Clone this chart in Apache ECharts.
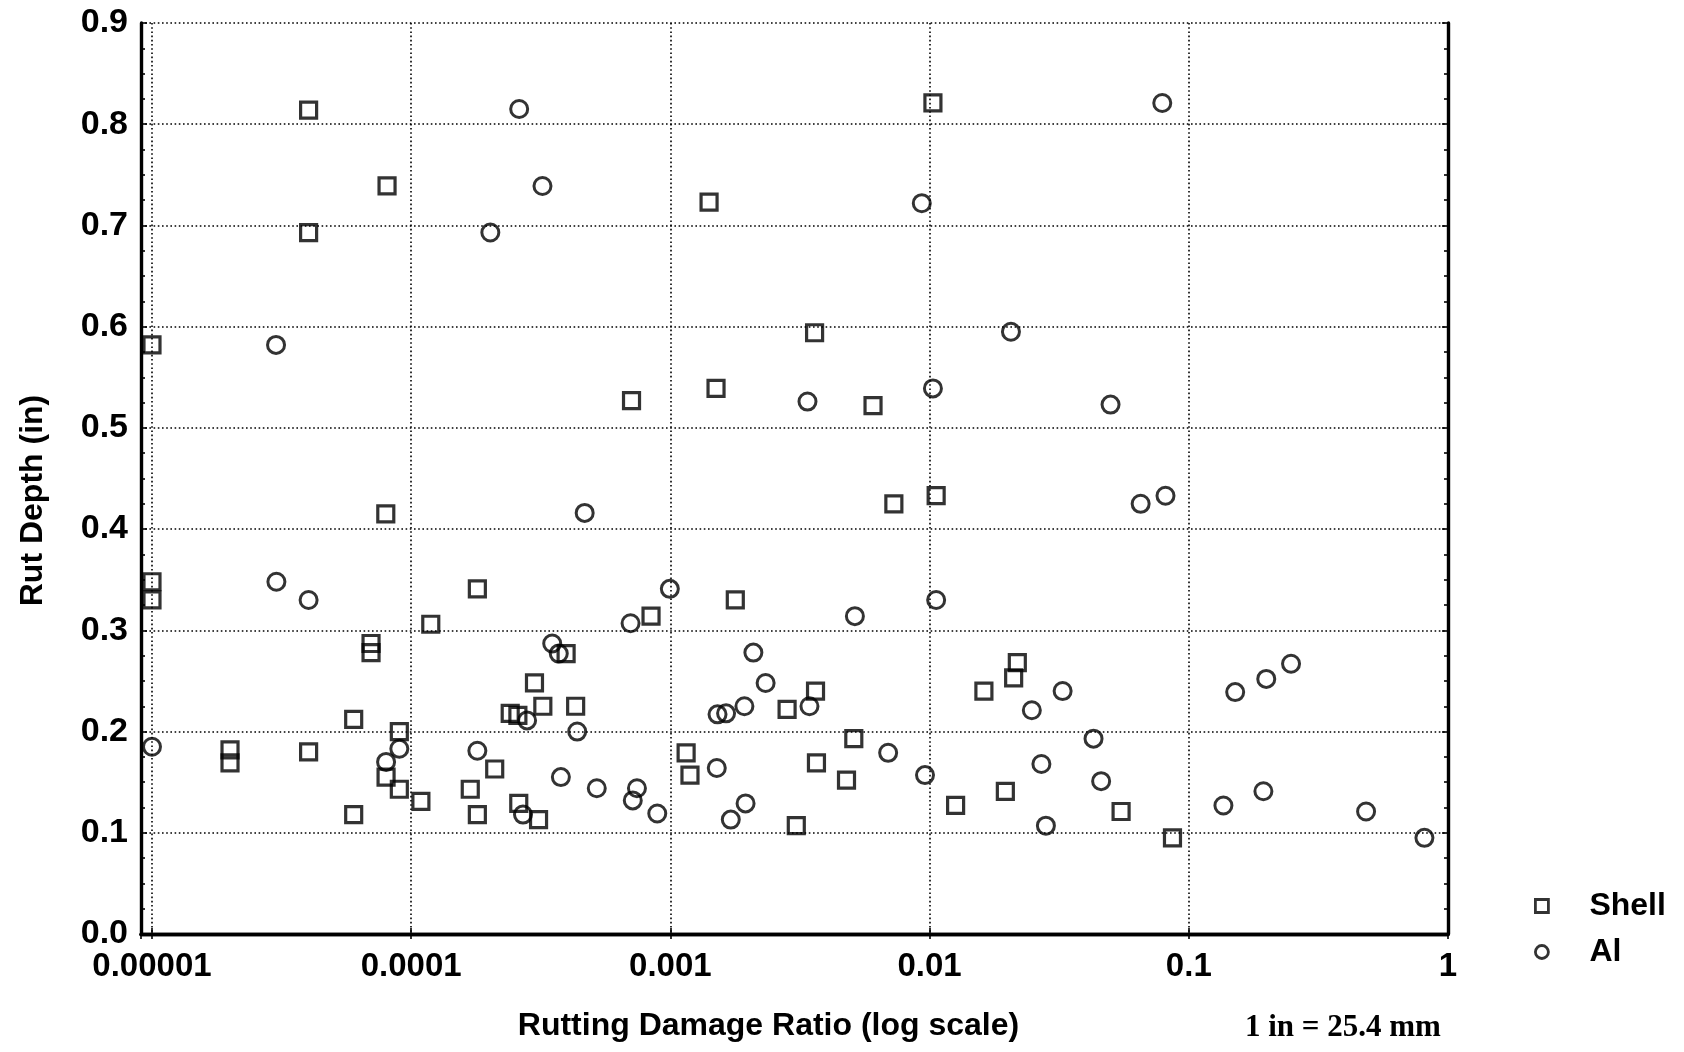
<!DOCTYPE html>
<html>
<head>
<meta charset="utf-8">
<title>Rut Depth vs Rutting Damage Ratio</title>
<script src="https://cdn.jsdelivr.net/npm/echarts@6/dist/echarts.min.js"></script>
<style>
  html, body { margin: 0; padding: 0; background: #fff; }
  #chart { width: 1684px; height: 1052px; }
</style>
</head>
<body>
<div id="chart"></div>
<script>
// rutting damage ratio (x, log scale) and rut depth in inches (y)
var shellRatio = [
  4.02e-5, 8.07e-5, 4.02e-5, 1.0e-5, 7.98e-5, 1.0e-5, 1.0e-5, 1.80e-4, 1.19e-4, 7.0e-5,
  7.0e-5, 6.0e-5, 9.0e-5, 2.0e-5, 2.0e-5, 4.02e-5, 8.0e-5, 9.0e-5, 1.09e-4, 6.0e-5,
  1.69e-4, 2.10e-4, 1.80e-4, 2.99e-4, 2.41e-4, 2.58e-4, 3.22e-4, 4.31e-4, 3.96e-4, 2.60e-4,
  3.10e-4, 7.08e-4, 8.42e-4, 1.41e-3, 1.50e-3, 1.78e-3, 1.15e-3, 1.19e-3, 2.82e-3, 3.60e-3,
  3.63e-3, 3.66e-3, 3.06e-3, 4.78e-3, 5.10e-3, 6.05e-3, 7.28e-3, 1.03e-2, 1.06e-2, 1.26e-2,
  1.62e-2, 1.96e-2, 2.11e-2, 2.18e-2, 5.48e-2, 8.65e-2
];
var shellDepth = [
  0.814, 0.739, 0.693, 0.582, 0.415, 0.348, 0.330, 0.341, 0.306, 0.287,
  0.278, 0.212, 0.200, 0.182, 0.169, 0.180, 0.155, 0.143, 0.131, 0.118,
  0.143, 0.163, 0.118, 0.248, 0.218, 0.216, 0.225, 0.225, 0.277, 0.129,
  0.113, 0.527, 0.314, 0.723, 0.539, 0.330, 0.179, 0.157, 0.222, 0.594,
  0.240, 0.169, 0.107, 0.152, 0.193, 0.522, 0.425, 0.821, 0.433, 0.127,
  0.240, 0.141, 0.253, 0.268, 0.121, 0.095
];
var alRatio = [
  2.61e-4, 3.21e-4, 2.02e-4, 3.01e-5, 4.67e-4, 3.02e-5, 4.02e-5, 1.0e-5, 8.0e-5, 9.0e-5,
  1.80e-4, 2.80e-4, 2.70e-4, 3.50e-4, 3.71e-4, 3.78e-4, 4.37e-4, 5.20e-4, 7.02e-4, 7.43e-4,
  7.16e-4, 8.90e-4, 9.95e-4, 1.52e-3, 1.64e-3, 1.93e-3, 1.51e-3, 2.09e-3, 2.33e-3, 1.95e-3,
  1.71e-3, 3.38e-3, 3.44e-3, 5.15e-3, 6.92e-3, 9.33e-3, 1.03e-2, 1.06e-2, 9.6e-3, 2.06e-2,
  2.48e-2, 2.70e-2, 2.81e-2, 3.26e-2, 4.29e-2, 4.59e-2, 4.99e-2, 6.52e-2, 7.9e-2, 8.13e-2,
  0.136, 0.151, 0.194, 0.199, 0.248, 0.483, 0.811
];
var alDepth = [
  0.815, 0.739, 0.693, 0.582, 0.416, 0.348, 0.330, 0.185, 0.170, 0.183,
  0.181, 0.211, 0.118, 0.287, 0.277, 0.155, 0.200, 0.144, 0.307, 0.144,
  0.132, 0.119, 0.341, 0.217, 0.218, 0.225, 0.164, 0.278, 0.248, 0.129,
  0.113, 0.526, 0.225, 0.314, 0.179, 0.722, 0.539, 0.330, 0.157, 0.595,
  0.221, 0.168, 0.107, 0.240, 0.193, 0.151, 0.523, 0.425, 0.821, 0.433,
  0.127, 0.239, 0.141, 0.252, 0.267, 0.121, 0.095
];
var xTickLabels = ['0.00001', '0.0001', '0.001', '0.01', '0.1', '1'];
var yTickLabels = ['0.0', '0.1', '0.2', '0.3', '0.4', '0.5', '0.6', '0.7', '0.8', '0.9'];

var FONT = '"Liberation Sans", Arial, sans-serif';
var X_MIN = 9.07e-6;

function pairs(xs, ys) {
  return xs.map(function (x, i) { return [x, ys[i]]; });
}

function xLabel(v) {
  var e = Math.log10(v);
  var r = Math.round(e);
  if (Math.abs(e - r) > 1e-6) return '';
  return xTickLabels[r + 5] || '';
}

function yLabel(v) {
  var i = Math.round(v * 10);
  if (Math.abs(v * 10 - i) > 1e-6) return '';
  return yTickLabels[i] || '';
}

var dotted = { color: '#000', width: 1.6, type: [1.6, 2.6] };
var frame = { color: '#000', width: 3.4 };
var tickStyle = { color: '#000', width: 1.6 };

var chart = echarts.init(document.getElementById('chart'));
chart.setOption({
  animation: false,
  backgroundColor: '#fff',
  textStyle: { fontFamily: FONT },
  grid: { left: 141, right: 236, top: 23, bottom: 118 },
  legend: {
    orient: 'vertical',
    left: 1529,
    top: 885,
    itemWidth: 13,
    itemHeight: 13,
    itemGap: 14,
    selectedMode: false,
    textStyle: { fontSize: 32, fontWeight: 'bold', fontFamily: FONT, color: '#000', padding: [0, 0, 0, 36] },
    data: [
      { name: 'Shell', icon: 'rect', itemStyle: { color: '#fff', borderColor: '#000', borderWidth: 2.8 } },
      { name: 'Al', icon: 'circle', itemStyle: { color: '#fff', borderColor: '#000', borderWidth: 2.8 } }
    ]
  },
  xAxis: [
    {
      type: 'log',
      logBase: 10,
      min: X_MIN,
      max: 1,
      name: 'Rutting Damage Ratio (log scale)',
      nameLocation: 'middle',
      nameGap: 76,
      nameTextStyle: { fontSize: 32, fontWeight: 'bold', color: '#000', padding: [0, 52, 0, 0] },
      axisLine: { lineStyle: frame },
      axisTick: { inside: true, length: 6, lineStyle: tickStyle },
      axisLabel: { formatter: xLabel, fontSize: 33, fontWeight: 'bold', color: '#000', margin: 16 },
      splitLine: { show: true, lineStyle: dotted }
    },
    {
      type: 'log',
      logBase: 10,
      min: X_MIN,
      max: 1,
      position: 'top',
      axisLine: { lineStyle: frame },
      axisTick: { inside: true, length: 5, lineStyle: tickStyle },
      axisLabel: { show: false },
      splitLine: { show: false }
    }
  ],
  yAxis: [
    {
      type: 'value',
      min: 0,
      max: 0.9,
      interval: 0.1,
      name: 'Rut Depth (in)',
      nameLocation: 'middle',
      nameGap: 92,
      nameTextStyle: { fontSize: 32, fontWeight: 'bold', color: '#000', padding: [0, 44, 0, 0] },
      axisLine: { lineStyle: frame },
      axisTick: { inside: true, length: 6, lineStyle: tickStyle },
      minorTick: { show: true, splitNumber: 4, length: 4, lineStyle: tickStyle },
      axisLabel: { formatter: yLabel, fontSize: 34, fontWeight: 'bold', color: '#000', margin: 13 },
      splitLine: { show: true, lineStyle: dotted }
    },
    {
      type: 'value',
      min: 0,
      max: 0.9,
      interval: 0.1,
      position: 'right',
      axisLine: { show: true, lineStyle: frame },
      axisTick: { inside: true, length: 6, lineStyle: tickStyle },
      minorTick: { show: true, splitNumber: 4, length: 4, lineStyle: tickStyle },
      axisLabel: { show: false },
      splitLine: { show: false }
    }
  ],
  graphic: [
    {
      type: 'text',
      left: 1245,
      top: 1012,
      style: { text: '1 in = 25.4 mm', font: 'bold 31px "Liberation Serif", "Times New Roman", serif', fill: '#000' }
    }
  ],
  series: [
    {
      name: 'Shell',
      type: 'scatter',
      symbol: 'rect',
      symbolSize: 16,
      silent: true,
      itemStyle: { color: 'rgba(255,255,255,0)', borderColor: '#000', borderWidth: 3.2 },
      data: pairs(shellRatio, shellDepth)
    },
    {
      name: 'Al',
      type: 'scatter',
      symbol: 'circle',
      symbolSize: 17,
      silent: true,
      itemStyle: { color: 'rgba(255,255,255,0)', borderColor: '#000', borderWidth: 3 },
      data: pairs(alRatio, alDepth)
    }
  ]
});
</script>
</body>
</html>
